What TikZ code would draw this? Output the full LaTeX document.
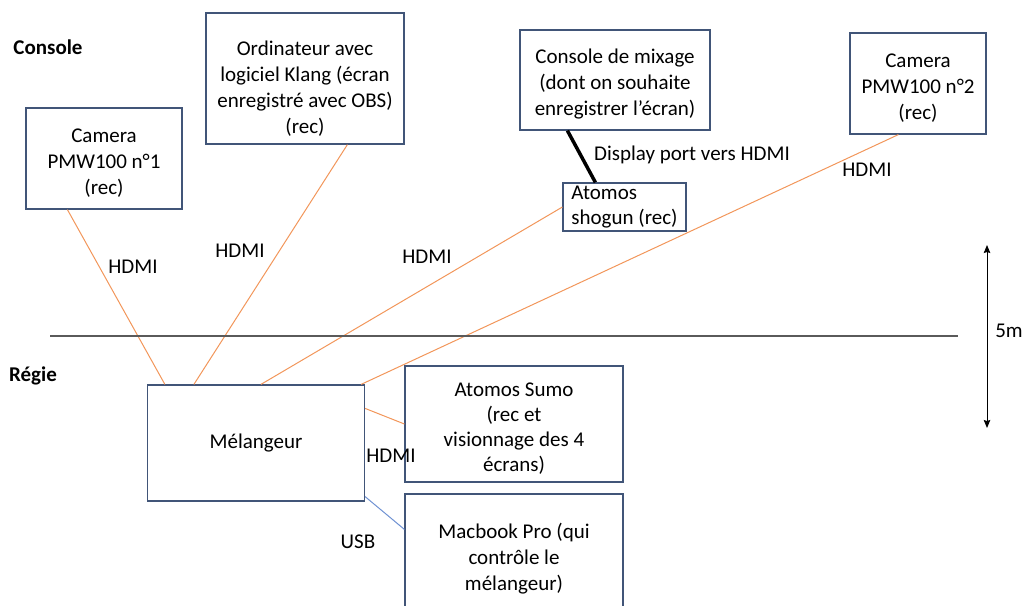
\documentclass[tikz,border=0pt]{standalone}
\usepackage{fontspec}
\setmainfont{Carlito}
\usetikzlibrary{arrows,arrows.meta,shapes,positioning,calc}
\definecolor{boxblue}{RGB}{65,85,120}
\definecolor{hdmiorange}{RGB}{242,150,90}
\definecolor{usbblue}{RGB}{110,145,210}
\definecolor{linegray}{RGB}{90,90,90}
\newcommand{\tallfirst}[1]{\rule{0pt}{#1}}
\tikzset{
  device/.style={draw=boxblue, line width=1.2pt, align=center, inner sep=2pt},
  hdmi/.style={draw=hdmiorange, line width=1pt},
  usb/.style={draw=usbblue, line width=1pt},
  lbl/.style={inner sep=0pt}
}

\begin{document}
\begin{tikzpicture}[x=1pt,y=-1pt,font=\fontsize{21}{26}\selectfont]
\clip (0,0) rectangle (1024,605);

% console side
\node [device, minimum width=156, minimum height=101] (cam1) at (104,158.5) {\tallfirst{23pt}Camera\\PMW100 n°1\\(rec)};
\node [device, minimum width=198, minimum height=131] (pc) at (305,78.5) {\tallfirst{34pt}Ordinateur avec\\logiciel Klang (écran\\enregistré avec OBS)\\(rec)};
\node [device, minimum width=190, minimum height=100] (mix) at (615,80) {\tallfirst{22pt}Console de mixage\\(dont on souhaite\\enregistrer l’écran)};
\node [device, minimum width=136, minimum height=101] (cam2) at (918,83.5) {\tallfirst{23pt}Camera\\PMW100 n°2\\(rec)};
\node [device, align=left, minimum width=123, minimum height=48, font=\fontsize{21}{25}\selectfont] (shogun) at (624.5,207) {Atomos\\shogun (rec)};

% regie side
\node [device, minimum width=217, minimum height=116] (mel) at (256,443) {Mélangeur};
\node [device, minimum width=218, minimum height=116, font=\fontsize{21}{25}\selectfont] (sumo) at (514,424) {\tallfirst{23pt}Atomos Sumo\\(rec et\\visionnage des 4\\écrans)};
\node [device, minimum width=218, minimum height=124] (mac) at (514,556) {\tallfirst{20pt}Macbook Pro (qui\\contrôle le\\mélangeur)};

% cables
\draw [hdmi] ($(cam1.south west)+(42,0)$) -- ($(mel.north west)+(18,0)$);
\draw [hdmi] ($(pc.south west)+(142,0)$) -- ($(mel.north west)+(47,0)$);
\draw [hdmi] (shogun.west) -- ($(mel.north west)+(114,0)$);
\draw [hdmi] ($(cam2.south west)+(49,0)$) -- ($(mel.north east)+(-4,0)$);
\draw [hdmi] ($(mel.north east)+(0,24)$) -- (sumo.west);
\draw [usb] ($(mel.south east)+(0,-5)$) -- ($(mac.north west)+(0,36)$);
\draw [line width=3.5pt] ($(mix.south west)+(48,0)$) -- ($(shogun.north west)+(33,0)$);

% labels
\node [lbl] (hdmi1) at (133,267) {HDMI};
\node [lbl] (hdmi2) at (240,251) {HDMI};
\node [lbl] (hdmi3) at (427,257) {HDMI};
\node [lbl] (hdmi4) at (867,170) {HDMI};
\node [lbl] (hdmi5) at (391,456) {HDMI};
\node [lbl] (usblbl) at (358,542) {USB};
\node [lbl] (dplbl) at (692,155) {Display port vers HDMI};

\node [lbl] (console) at (48,47) {\textbf{Console}};
\node [lbl] (regie) at (33,376) {\textbf{Régie}};

% separation and distance
\coordinate (sepleft) at (50,336);
\coordinate (sepright) at (958,336);
\draw [linegray, line width=1.2pt] (sepleft) -- (sepright);
\coordinate (dimtop) at (987,245);
\coordinate (dimbot) at (987,428);
\draw [{Stealth[length=8pt,width=6.5pt,inset=1pt]}-{Stealth[length=8pt,width=6.5pt,inset=1pt]}, line width=0.9pt] (dimtop) -- (dimbot);
\node [lbl] (dist) at (1009,331) {5m};
\end{tikzpicture}
\end{document}
